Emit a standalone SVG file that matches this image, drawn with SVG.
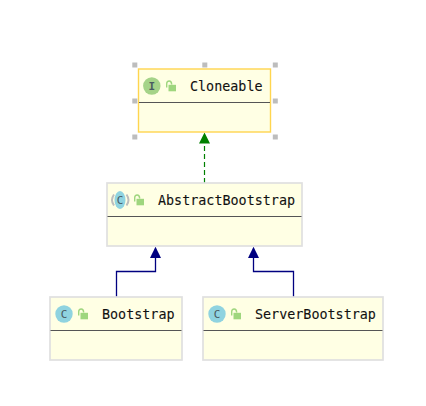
<svg xmlns="http://www.w3.org/2000/svg" width="426" height="406" viewBox="0 0 426 406">
<style>
.box{fill:#ffffe4;stroke:#e0e0e0;stroke-width:1.7}
.sel{stroke:#ffd54f;stroke-width:1.4}
.div{stroke:#555;stroke-width:1.1}
.name{font-family:"DejaVu Sans Mono",monospace;font-size:13.4px;fill:#111;stroke:#111;stroke-width:.1}
.ic{font-family:"DejaVu Sans Mono",monospace;font-size:11px;fill:#4a5a60;text-anchor:middle}
.icb{font-weight:bold}
.h{fill:#bdbdbd}
.lock{fill:#9fd67e}
.lk{fill:none;stroke:#9fd67e;stroke-width:1.4}
.inh{fill:none;stroke:#000080;stroke-width:1.3}
.real{fill:none;stroke:#008000;stroke-width:1.2;stroke-dasharray:5 3}
</style>
<defs>
<g id="lockicon"><rect x="2.500" y="1.800" width="7.500" height="6.500" class="lock"/><path d="M0.700 4.500V0.800Q0.700-2 3.200-2Q5.500-2 5.700 1.500" class="lk"/></g>
</defs>
<g id="connectors">
<path d="M204.500 183V142" class="real"/><path d="M204.500 132.500l-5.500 11h11z" fill="#008000"/>
<path d="M116.500 297V271.500H155.500V256" class="inh"/><path d="M155.500 246.700l-5.500 11.300h11z" fill="#000080"/>
<path d="M293.500 297V271.500H253.500V256" class="inh"/><path d="M253.500 246.700l-5.500 11.300h11z" fill="#000080"/>
</g>
<g id="node-cloneable">
<rect x="138.500" y="69" width="132" height="63" class="box sel"/>
<path d="M139 102.500H270" class="div"/>
<circle cx="151.800" cy="86" r="8.700" fill="#a5d388"/>
<text x="151.800" y="89.800" class="ic icb">I</text>
<use href="#lockicon" x="166" y="83"/>
<text x="190" y="91" class="name">Cloneable</text>
</g>
<g id="selection-handles">
<rect x="132.300" y="62.500" width="5" height="5" class="h"/><rect x="202.300" y="62.500" width="5" height="5" class="h"/><rect x="272.800" y="62.500" width="5" height="5" class="h"/>
<rect x="132.300" y="98.500" width="5" height="5" class="h"/><rect x="272.800" y="98.500" width="5" height="5" class="h"/>
<rect x="132.300" y="134.500" width="5" height="5" class="h"/><rect x="272.800" y="134.500" width="5" height="5" class="h"/>
</g>
<g id="node-abstractbootstrap">
<rect x="107" y="183" width="195" height="63" class="box"/>
<path d="M107.500 216.500H301.500" class="div"/>
<path d="M114 194.500Q110 200 114 205.500M126.500 194.500Q130.500 200 126.500 205.500" fill="none" stroke="#bdbdbd" stroke-width="2"/>
<ellipse cx="120" cy="200" rx="5.500" ry="9" fill="#8fd3e0"/>
<text x="120" y="203.800" class="ic">C</text>
<use href="#lockicon" x="134" y="197"/>
<text x="158" y="205" class="name">AbstractBootstrap</text>
</g>
<g id="node-bootstrap">
<rect x="50" y="297" width="132" height="63" class="box"/>
<path d="M50.500 330.500H181.500" class="div"/>
<circle cx="64" cy="314" r="8.700" fill="#8fd3e0"/>
<text x="64" y="317.800" class="ic">C</text>
<use href="#lockicon" x="78" y="311"/>
<text x="102" y="319" class="name">Bootstrap</text>
</g>
<g id="node-serverbootstrap">
<rect x="203" y="297" width="180" height="63" class="box"/>
<path d="M203.500 330.500H382.500" class="div"/>
<circle cx="217" cy="314" r="8.700" fill="#8fd3e0"/>
<text x="217" y="317.800" class="ic">C</text>
<use href="#lockicon" x="231" y="311"/>
<text x="255" y="319" class="name">ServerBootstrap</text>
</g>
</svg>
